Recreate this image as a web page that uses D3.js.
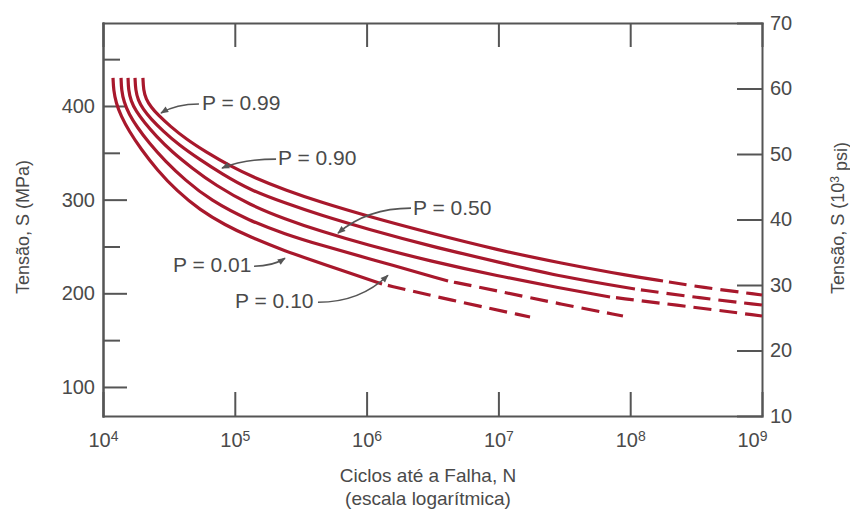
<!DOCTYPE html>
<html>
<head>
<meta charset="utf-8">
<script src="https://cdn.jsdelivr.net/npm/d3@7"></script>
<style>
  body { margin: 0; background: #fff; }
  svg { font-family: "Liberation Sans", Arial, sans-serif; }
  .axis path, .axis line { stroke: #555; stroke-width: 2; }
  .axis text { fill: #4a4a4a; font-size: 20px; }
</style>
</head>
<body>
<div id="chart"></div>
<script>
// ---- data: [log10 N, S in MPa] ----
const exponents = [4, 5, 6, 7, 8, 9];
const mpaMajor = [100, 200, 300, 400];
const mpaMinor = [150, 250, 350, 450];
const psiTicks = [10, 20, 30, 40, 50, 60, 70];

const curveP001 = [[4.076,430],[4.080,417.1],[4.099,403.2],[4.137,389.3],[4.197,373.3],[4.288,354.1],[4.410,331.7],[4.561,309.2],[4.736,288.9],[4.926,272.9],[5.115,260.1],[5.381,245.2],[5.646,232.4],[6.117,209.9],[6.633,192.9],[7.240,174.7]];
const curveP010 = [[4.137,430],[4.140,417.1],[4.159,404.2],[4.197,391.4],[4.258,377.6],[4.349,360.5],[4.470,341.3],[4.622,321.0],[4.812,299.6],[5.115,277.2],[5.381,263.3],[5.646,251.6],[6.003,237.7],[6.618,213.1],[6.997,202.5],[7.467,188.6],[7.945,175.8]];
const curveP050 = [[4.190,430],[4.193,417.1],[4.212,405.3],[4.250,394.6],[4.311,382.9],[4.402,367.9],[4.524,350.9],[4.675,333.8],[4.850,315.6],[5.115,294.3],[5.381,279.3],[5.646,266.5],[6.003,251.6],[6.481,234.5],[6.997,218.5],[7.467,205.7],[7.847,196.1],[8.530,184.3],[9.0,175.8]];
const curveP090 = [[4.243,430],[4.247,417.1],[4.266,406.4],[4.303,396.8],[4.364,386.1],[4.455,373.3],[4.577,358.3],[4.728,343.4],[4.903,327.4],[5.115,310.3],[5.381,296.4],[5.646,283.6],[6.003,268.7],[6.481,250.5],[6.997,233.4],[7.490,217.4],[8.036,204.6],[8.530,195.0],[9.0,187.5]];
const curveP099 = [[4.303,430],[4.307,417.1],[4.326,407.5],[4.364,398.9],[4.417,390.4],[4.508,378.6],[4.630,364.7],[4.781,350.9],[4.964,335.9],[5.153,323.1],[5.381,310.3],[5.646,297.5],[6.003,282.5],[6.481,264.4],[6.997,246.2],[7.467,232.4],[7.998,218.5],[8.249,213.1],[8.530,206.7],[9.0,198.2]];
const curves = [curveP001, curveP010, curveP050, curveP090, curveP099];
const solidEnds = [6.117, 6.618, 7.847, 8.036, 8.249];   // dashed beyond these

const probLabels = ["P = 0.01", "P = 0.10", "P = 0.50", "P = 0.90", "P = 0.99"];
const labelAt = [[4.531,222.5],[5.002,184.0],[6.352,283.4],[5.328,336.9],[4.751,395.7]];
const arrowFrom = [[5.146,228.9],[5.631,190.4],[6.337,290.9],[5.313,343.3],[4.728,402.1]];
const arrowTo = [[5.381,237.4],[6.162,219.3],[5.783,264.2],[4.903,333.7],[4.440,392.5]];

const width = 850, height = 514;
const margin = { top: 23, right: 88, bottom: 98, left: 103 };

const svg = d3.select("#chart").append("svg").attr("width", width).attr("height", height);

const x = d3.scaleLinear().domain([4, 9]).range([margin.left, width - margin.right]);
const y = d3.scaleLinear().domain([69, 488.6]).range([height - margin.bottom, margin.top]);
const yPsi = d3.scaleLinear().domain([10, 70]).range([height - margin.bottom, margin.top]);

const plotBottom = height - margin.bottom, plotRight = width - margin.right;

// axes
const bottomAxis = svg.append("g").attr("class", "axis").attr("transform", `translate(0,${plotBottom})`)
    .call(d3.axisBottom(x).tickValues(exponents).tickSizeInner(-24).tickSizeOuter(0).tickPadding(17).tickFormat(""));
bottomAxis.selectAll(".tick text").each(function(d) {
    const t = d3.select(this);
    t.append("tspan").text("10");
    t.append("tspan").attr("dy", "-0.45em").style("font-size", "14px").text(d);
});
bottomAxis.selectAll(".tick").filter(d => d === 9).select("text").attr("dx", -10);

svg.append("g").attr("class", "axis").attr("transform", `translate(0,${margin.top})`)
    .call(d3.axisTop(x).tickValues(exponents).tickSizeInner(-24).tickSizeOuter(0).tickFormat(""));

svg.append("g").attr("class", "axis").attr("transform", `translate(${margin.left},0)`)
    .call(d3.axisLeft(y).tickValues(mpaMajor).tickSizeInner(-24).tickSizeOuter(0).tickPadding(8));
svg.append("g").attr("class", "axis").attr("transform", `translate(${margin.left},0)`)
    .call(d3.axisLeft(y).tickValues(mpaMinor).tickSizeInner(-17).tickSizeOuter(0).tickFormat(""));

svg.append("g").attr("class", "axis").attr("transform", `translate(${plotRight},0)`)
    .call(d3.axisRight(yPsi).tickValues(psiTicks).tickSizeInner(-25).tickSizeOuter(0).tickPadding(8));

svg.selectAll(".axis .domain").attr("stroke-linecap", "square");

// axis titles
svg.append("text").attr("x", 428).attr("y", 482).attr("text-anchor", "middle")
    .attr("fill", "#4a4a4a").style("font-size", "19px").text("Ciclos até a Falha, N");
svg.append("text").attr("x", 428).attr("y", 505).attr("text-anchor", "middle")
    .attr("fill", "#4a4a4a").style("font-size", "19px").text("(escala logarítmica)");

svg.append("text").attr("transform", "translate(29,227) rotate(-90)").attr("text-anchor", "middle")
    .attr("fill", "#4a4a4a").style("font-size", "18px").text("Tensão, S (MPa)");

const rt = svg.append("text").attr("transform", "translate(844,218) rotate(-90)").attr("text-anchor", "middle")
    .attr("fill", "#4a4a4a").style("font-size", "18px");
rt.append("tspan").text("Tensão, S (10");
rt.append("tspan").attr("dy", "-0.45em").style("font-size", "12px").text("3");
rt.append("tspan").attr("dy", "0.45em").text(" psi)");

// curves
const line = d3.line().x(d => x(d[0])).y(d => y(d[1])).curve(d3.curveBasis);
const red = "#a8182c";

curves.forEach((c, i) => {
    const solid = c.filter(d => d[0] <= solidEnds[i]);
    const dashed = c.filter(d => d[0] >= solidEnds[i]);
    svg.append("path").datum(solid).attr("d", line)
        .attr("fill", "none").attr("stroke", red).attr("stroke-width", 3.2);
    if (dashed.length > 1) {
        svg.append("path").datum(dashed).attr("d", line)
            .attr("fill", "none").attr("stroke", red).attr("stroke-width", 3.2)
            .attr("stroke-dasharray", "18,8").attr("stroke-dashoffset", -6);
    }
});

// labels with arrows
svg.append("defs").append("marker").attr("id", "head")
    .attr("viewBox", "0 -5 10 10").attr("refX", 9).attr("refY", 0)
    .attr("markerWidth", 10).attr("markerHeight", 8).attr("markerUnits", "userSpaceOnUse")
    .attr("orient", "auto")
    .append("path").attr("d", "M0,-4L10,0L0,4Z").attr("fill", "#555");

probLabels.forEach((lab, i) => {
    const fx = x(arrowFrom[i][0]), fy = y(arrowFrom[i][1]);
    const tx = x(arrowTo[i][0]), ty = y(arrowTo[i][1]);
    const cx = fx + (tx - fx) * 0.6;
    svg.append("path").attr("d", `M${fx},${fy}Q${cx},${fy} ${tx},${ty}`)
        .attr("fill", "none").attr("stroke", "#555").attr("stroke-width", 1.6)
        .attr("marker-end", "url(#head)");
    svg.append("text").attr("x", x(labelAt[i][0])).attr("y", y(labelAt[i][1]))
        .attr("fill", "#4a4a4a").style("font-size", "21px").text(lab);
});
</script>
</body>
</html>
